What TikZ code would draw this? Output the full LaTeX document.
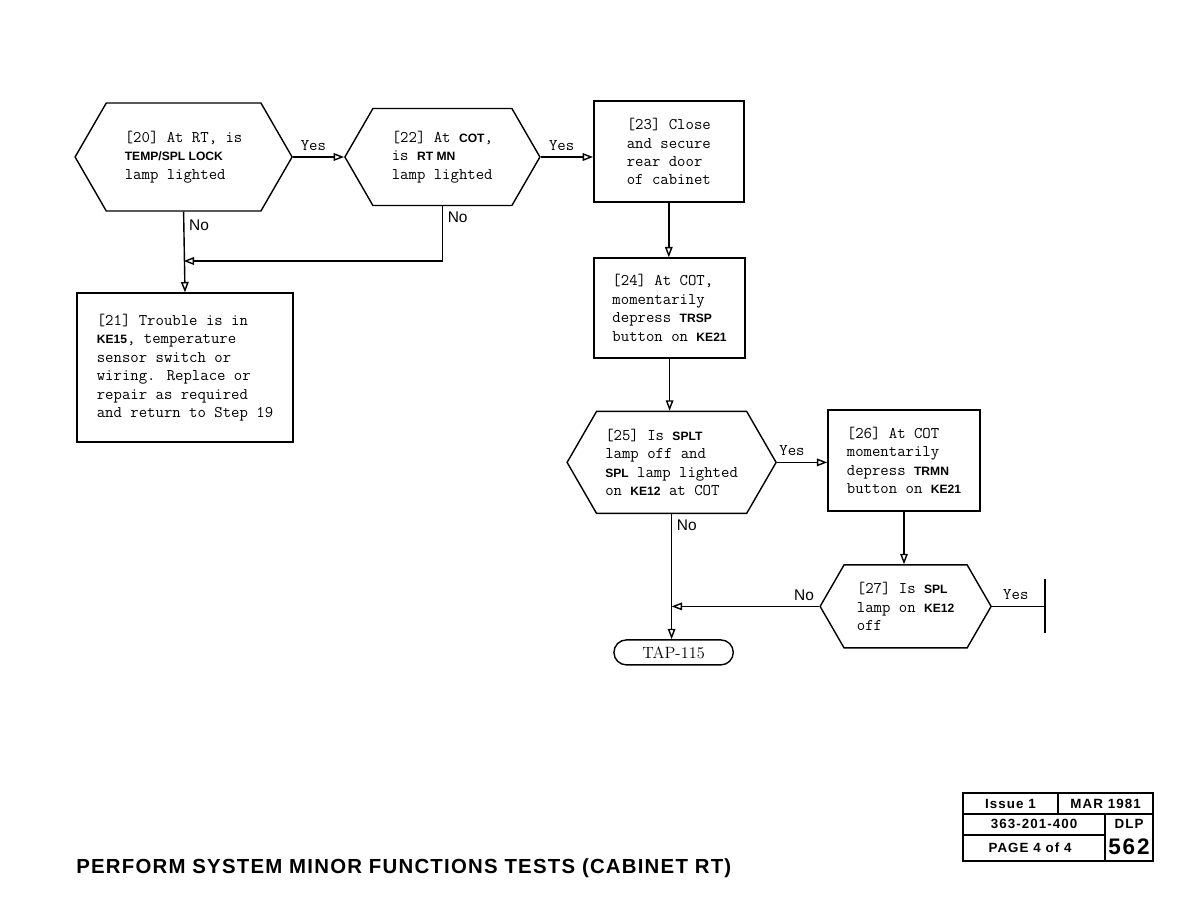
\documentclass[tikz,border=0pt]{standalone}
\usepackage{fontspec}
\setsansfont{Liberation Sans}
\newfontfamily\tabfont[LetterSpace=8.0]{Liberation Sans}
\newfontfamily\titfont[LetterSpace=6.0]{Liberation Sans}
\usepackage{tikz}
\usetikzlibrary{shapes.symbols, shapes.misc, arrows.meta, positioning, calc}

\newcommand{\kw}[1]{{\sffamily\bfseries\fontsize{8.6}{10}\selectfont #1}}

\tikzset{
  hexa/.style={signal, signal to=east and west, signal pointer angle=120, draw, line width=1pt,
    align=left, inner sep=2pt, font=\ttfamily\fontsize{11.6}{13.1}\selectfont},
  caja/.style={rectangle, draw, line width=1pt, align=left, inner sep=2pt,
    font=\ttfamily\fontsize{11.6}{13.1}\selectfont},
  fin/.style={rounded rectangle, draw, line width=1pt, inner sep=2pt,
    font=\rmfamily\fontsize{11.6}{13}\selectfont},
  flecha/.style={line width=1pt, -{Triangle[open, length=2.6mm, width=1.9mm]}},
  linea/.style={line width=1pt},
  si/.style={font=\ttfamily\fontsize{11.6}{13}\selectfont},
  no/.style={font=\sffamily\fontsize{11}{13}\selectfont},
  celda/.style={font=\tabfont\bfseries\fontsize{9.5}{11}\selectfont, inner sep=0pt}
}

\begin{document}
\begin{tikzpicture}
    \useasboundingbox (0,0) rectangle (29.7,-22.95);

    % Pasos del diagrama
    \node[hexa, minimum width=5.425cm, minimum height=2.7cm] (n20) at (4.59,-3.925)
        {[20] At RT, is\\\kw{TEMP/SPL LOCK}\\lamp lighted};
    \node[hexa, minimum width=4.875cm, minimum height=2.425cm] (n22) at (11.06,-3.925)
        {[22] At \kw{COT},\\is \kw{RT MN}\\lamp lighted};
    \node[caja, minimum width=3.75cm, minimum height=2.525cm] (n23) at (16.72,-3.79)
        {[23] Close\\and secure\\rear door\\of cabinet};
    \node[caja, minimum width=5.4cm, minimum height=3.725cm] (n21) at (4.625,-9.19)
        {[21] Trouble is in\\\kw{KE15}, temperature\\sensor switch or\\wiring. Replace or\\repair as required\\and return to Step 19};
    \node[caja, minimum width=3.775cm, minimum height=2.5cm] (n24) at (16.74,-7.7)
        {[24] At COT,\\momentarily\\depress \kw{TRSP}\\button on \kw{KE21}};
    \node[hexa, minimum width=5.225cm, minimum height=2.55cm] (n25) at (16.79,-11.56)
        {[25] Is \kw{SPLT}\\lamp off and\\\kw{SPL} lamp lighted\\on \kw{KE12} at COT};
    \node[caja, minimum width=3.8cm, minimum height=2.525cm] (n26) at (22.6,-11.51)
        {[26] At COT\\momentarily\\depress \kw{TRMN}\\button on \kw{KE21}};
    \node[hexa, minimum width=4.275cm, minimum height=2.075cm] (n27) at (22.64,-15.16)
        {[27] Is \kw{SPL}\\lamp on \kw{KE12}\\off};
    \node[fin, minimum width=3.125cm, minimum height=0.625cm] (tap) at (16.84,-16.31) {TAP-115};

    % Puntos libres
    \coordinate (j1) at (n20.south |- 0,-6.525);
    \coordinate (j2) at (n25.south |- n27.west);
    \coordinate (tope) at (26.125,-15.16);

    % Conexiones
    \draw[flecha] (n20.east) -- node[si, above=1pt, pos=0.4] (s20) {Yes} (n22.west);
    \draw[flecha] (n22.east) -- node[si, above=1pt, pos=0.4] (s22) {Yes} (n22.east -| n23.west);
    \draw[flecha] (n20.south) -- node[no, right, pos=0.17] (o20) {No} (n21.north);
    \draw[flecha] (n22.south) |- node[no, right, pos=0.1] (o22) {No} (j1);
    \draw[flecha] (n23.south) -- (n23.south |- n24.north);
    \draw[flecha] (n24.south) -- (n24.south |- n25.north);
    \draw[flecha] (n25.east) -- node[si, above=1pt, pos=0.3] (s25) {Yes} (n25.east -| n26.west);
    \draw[flecha] (n25.south) -- node[no, right, pos=0.09] (o25) {No} (n25.south |- tap.north);
    \draw[flecha] (n26.south) -- (n26.south |- n27.north);
    \draw[flecha] (n27.west) -- node[no, above left, pos=0] (o27) {No} (j2);
    \draw[linea] (n27.east) -- node[si, above=1pt, pos=0.45] (s27) {Yes} (tope);
    \draw[line width=2pt] ($(tope)+(0,0.675)$) -- ($(tope)+(0,-0.675)$);

    % Titulo
    \node[anchor=base west, inner sep=0pt, font=\titfont\bfseries\fontsize{14.5}{16}\selectfont] (titulo)
        at (1.9,-21.83) {PERFORM SYSTEM MINOR FUNCTIONS TESTS (CABINET RT)};

    % Tabla de la pagina
    \draw[linea] (24.075,-19.825) rectangle (28.825,-21.525);
    \draw[linea] (24.075,-20.35) -- (28.825,-20.35);
    \draw[linea] (24.075,-20.875) -- (27.625,-20.875);
    \draw[linea] (26.45,-19.825) -- (26.45,-20.35);
    \draw[linea] (27.625,-20.35) -- (27.625,-21.525);
    \node[celda] (t1) at (25.26,-20.09) {Issue 1};
    \node[celda] (t2) at (27.64,-20.09) {MAR 1981};
    \node[celda] (t3) at (25.85,-20.61) {363-201-400};
    \node[celda] (t4) at (28.225,-20.59) {DLP};
    \node[celda] (t5) at (25.75,-21.2) {PAGE 4 of 4};
    \node[celda, font=\tabfont\bfseries\fontsize{16}{17}\selectfont] (t6) at (28.225,-21.16) {562};

\end{tikzpicture}
\end{document}
